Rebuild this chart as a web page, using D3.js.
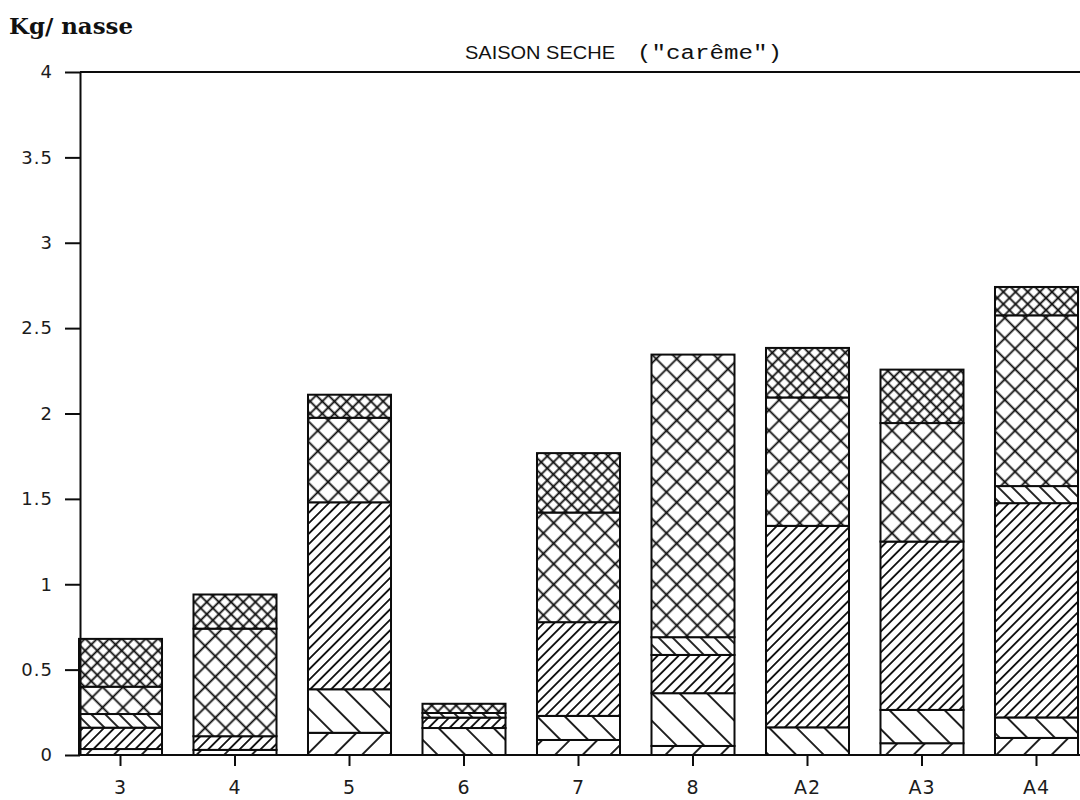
<!DOCTYPE html>
<html>
<head>
<meta charset="utf-8">
<script src="https://cdn.jsdelivr.net/npm/d3@7"></script>
<style>
  html, body { margin: 0; padding: 0; background: #ffffff; }
  svg { display: block; }
</style>
</head>
<body>
<svg id="chart" width="1080" height="800"></svg>
<script>
// Stations (x categories)
const categories = ["3", "4", "5", "6", "7", "8", "A2", "A3", "A4"];

// Catch per trap (kg) by group, stacked bottom to top
const sparseSlash    = [0.035, 0.03, 0.13,  0,     0.088, 0.053, 0,     0.069, 0.10];
const sparseBack     = [0,     0,    0.255, 0.158, 0.141, 0.309, 0.162, 0.195, 0.12];
const denseSlash     = [0.125, 0.08, 1.095, 0.061, 0.549, 0.224, 1.18,  0.986, 1.255];
const mediumBack     = [0.08,  0,    0,     0.027, 0,     0.104, 0,     0,     0.10];
const largeCross     = [0.16,  0.63, 0.495, 0,     0.642, 1.655, 0.752, 0.694, 1.00];
const smallCross     = [0.28,  0.20, 0.135, 0.054, 0.348, 0,     0.29,  0.313, 0.166];

const yTicks = [0, 0.5, 1, 1.5, 2, 2.5, 3, 3.5, 4];

const seriesKeys = ["sparseSlash", "sparseBack", "denseSlash", "mediumBack", "largeCross", "smallCross"];
const seriesValues = [sparseSlash, sparseBack, denseSlash, mediumBack, largeCross, smallCross];

const table = categories.map((c, i) => {
  const row = { cat: c };
  seriesKeys.forEach((k, j) => { row[k] = seriesValues[j][i]; });
  return row;
});

const svg = d3.select("#chart");
const ink = "#0c0c0c";

// Hatch patterns: spacing is perpendicular distance between lines
const hatchDefs = {
  sparseSlash: { spacing: 19.5, angle: 45,  cross: false },
  sparseBack:  { spacing: 19.5, angle: -45, cross: false },
  denseSlash:  { spacing: 7.4,  angle: 45,  cross: false },
  mediumBack:  { spacing: 9.9,  angle: -45, cross: false },
  largeCross:  { spacing: 14.5, angle: 45,  cross: true  },
  smallCross:  { spacing: 8.6,  angle: 45,  cross: true  }
};

const defs = svg.append("defs");
Object.entries(hatchDefs).forEach(([key, h]) => {
  const p = defs.append("pattern")
    .attr("id", "hatch-" + key)
    .attr("patternUnits", "userSpaceOnUse")
    .attr("width", h.spacing)
    .attr("height", h.spacing)
    .attr("patternTransform", `rotate(${h.angle})`);
  p.append("rect").attr("width", h.spacing).attr("height", h.spacing).attr("fill", "#fff");
  p.append("line")
    .attr("x1", h.spacing / 2).attr("y1", -1)
    .attr("x2", h.spacing / 2).attr("y2", h.spacing + 1)
    .attr("stroke", ink).attr("stroke-width", 1.8);
  if (h.cross) {
    p.append("line")
      .attr("x1", -1).attr("y1", h.spacing / 2)
      .attr("x2", h.spacing + 1).attr("y2", h.spacing / 2)
      .attr("stroke", ink).attr("stroke-width", 1.8);
  }
});

const x = d3.scaleBand()
  .domain(categories)
  .range([79, 1078])
  .paddingInner(0.275)
  .paddingOuter(0);

const y = d3.scaleLinear()
  .domain([0, 4])
  .range([755, 72]);

const stack = d3.stack().keys(seriesKeys);
const stacked = stack(table);

// Bars
const layers = svg.append("g").attr("class", "bars")
  .selectAll("g")
  .data(stacked)
  .join("g")
  .attr("fill", d => `url(#hatch-${d.key})`);

layers.selectAll("rect")
  .data(d => d.filter(s => s[1] - s[0] > 0))
  .join("rect")
  .attr("x", d => x(d.data.cat))
  .attr("y", d => y(d[1]))
  .attr("width", x.bandwidth())
  .attr("height", d => y(d[0]) - y(d[1]))
  .attr("stroke", ink)
  .attr("stroke-width", 2);

// Y axis
const yAxis = svg.append("g")
  .attr("transform", "translate(80,0)")
  .call(d3.axisLeft(y).tickValues(yTicks).tickSize(15).tickSizeOuter(0).tickPadding(12)
    .tickFormat(d => String(d)));
yAxis.select(".domain").attr("stroke", ink).attr("stroke-width", 2);
yAxis.selectAll(".tick line").attr("stroke", ink).attr("stroke-width", 2);
yAxis.selectAll(".tick text")
  .attr("fill", "#1c1c1c")
  .style("font-family", "'DejaVu Sans', sans-serif")
  .style("font-size", "18px")
  .style("letter-spacing", "1px");

// X axis
const xAxis = svg.append("g")
  .attr("transform", "translate(0,755)")
  .call(d3.axisBottom(x).tickSize(11).tickSizeOuter(0).tickPadding(15));
xAxis.select(".domain").remove();
xAxis.selectAll(".tick line").attr("stroke", ink).attr("stroke-width", 2);
xAxis.selectAll(".tick text")
  .attr("fill", "#1c1c1c")
  .style("font-family", "'DejaVu Sans', sans-serif")
  .style("font-size", "19px")
  .style("letter-spacing", "1px");

// Baseline and top frame
svg.append("line")
  .attr("x1", 80).attr("x2", 1080)
  .attr("y1", y(0)).attr("y2", y(0))
  .attr("stroke", ink).attr("stroke-width", 2);
svg.append("line")
  .attr("x1", 80).attr("x2", 1080)
  .attr("y1", y(4)).attr("y2", y(4))
  .attr("stroke", ink).attr("stroke-width", 2);

// Unit label
svg.append("text")
  .attr("x", 9).attr("y", 34)
  .attr("textLength", 124).attr("lengthAdjust", "spacingAndGlyphs")
  .style("font-family", "'DejaVu Serif', serif")
  .style("font-size", "22px")
  .style("font-weight", "bold")
  .attr("fill", "#111")
  .text("Kg/ nasse");

// Title
const title = svg.append("text")
  .attr("y", 59)
  .attr("fill", "#111");
title.append("tspan")
  .attr("x", 465)
  .attr("textLength", 150).attr("lengthAdjust", "spacingAndGlyphs")
  .style("font-family", "'Liberation Sans', Arial, sans-serif")
  .style("font-size", "19px")
  .text("SAISON SECHE");
title.append("tspan")
  .attr("x", 637)
  .attr("textLength", 145).attr("lengthAdjust", "spacingAndGlyphs")
  .style("font-family", "'Liberation Mono', monospace")
  .style("font-size", "20px")
  .text("(\"carême\")");
</script>
</body>
</html>
